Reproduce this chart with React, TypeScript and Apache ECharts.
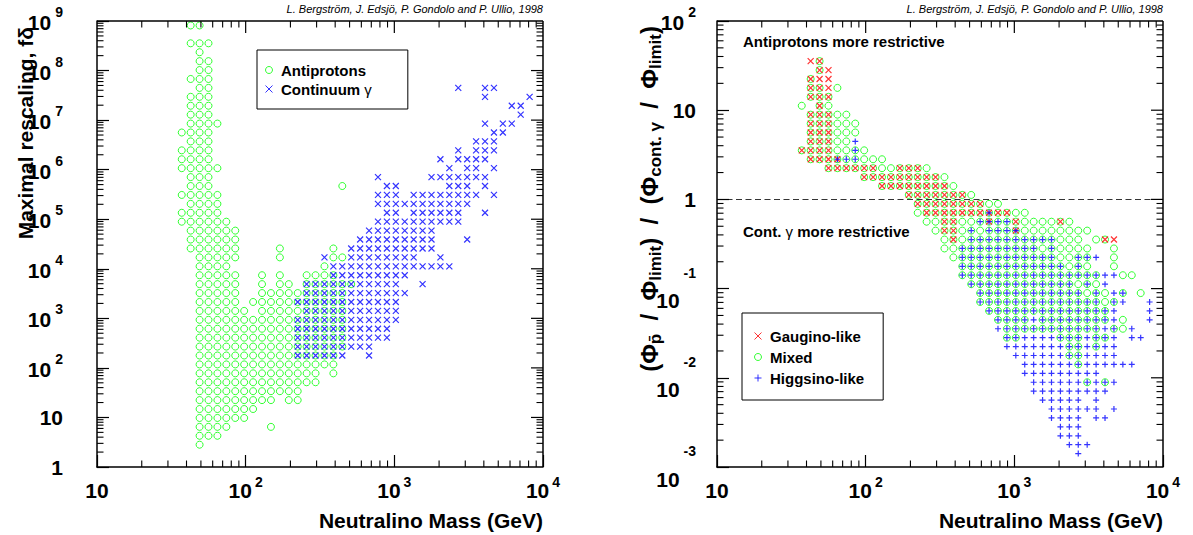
import React, { useEffect, useRef } from "react";
import * as echarts from "echarts";

const FONT = '"Liberation Sans", Arial, Helvetica, sans-serif';

// Grid cells.
// x bin i (0..49): log10(mass/GeV) from 1 + 0.06 i to 1 + 0.06 (i + 1)
// left panel, y bin j (0..49): log10(f delta) from 0.18 j to 0.18 (j + 1)
// right panel, y bin j (0..49): log10(ratio) from -3 + 0.1 j to -3 + 0.1 (j + 1)
// Each entry: [y bin, list of occupied x bins]

const antiprotonCells: [number, string][] = [
  [49, "10-11"], [47, "10-12"], [46, "11"], [45, "11-12"], [44, "11-12"],
  [43, "10-12"], [42, "11-12"], [41, "10-12"], [40, "10-12"], [39, "10-12"],
  [38, "10-13"], [37, "9-12"], [36, "10-12"], [35, "9-12"], [34, "9-12"],
  [33, "9-13"], [32, "10-12"], [31, "10-12,27"], [30, "9-13"], [29, "10-13"],
  [28, "9-13"], [27, "9-14"], [26, "10-15"], [25, "10-15"], [24, "10-15,20,26"],
  [23, "11-15,20,26-27"], [22, "11-14,25"], [21, "11-15,18,20,23-26"],
  [20, "11-15,18,20-21,23-28"], [19, "11-15,18-27"], [18, "11-15,17-27"],
  [17, "11-16,18-27"], [16, "11-27"], [15, "11-27"], [14, "11-27"], [13, "11-27"],
  [12, "11-26"], [11, "11-26"], [10, "11-24,26"], [9, "11-24"], [8, "11-22"],
  [7, "11-19,21-22"], [6, "11-17"], [5, "11-16"], [4, "11-14,19"], [3, "11-13"], [2, "11"],
];

const continuumCells: [number, string][] = [
  [42, "40,43-44"], [41, "43,48"], [40, "46-47"], [39, "47"], [38, "43,45-46"],
  [37, "44-45"], [36, "42-44"], [35, "40,42-44"], [34, "38,40-43"], [33, "39,41-42,44"],
  [32, "31,37-43"], [31, "32-33,39-41,43"], [30, "31-33,35-42,44"], [29, "31-41"],
  [28, "32-33,35-40,43"], [27, "31-40"], [26, "30-37"], [25, "29-37,41"], [24, "28-37"],
  [23, "25,28-35,38"], [22, "26-39"], [21, "26-34"], [20, "23-33,36"], [19, "23-34"],
  [18, "22-33"], [17, "23-33"], [16, "22-33"], [15, "22-32"], [14, "22-32"],
  [13, "22-30"], [12, "22-27,30"],
];

const gauginoCells: [number, string][] = [
  [45, "10-11"], [44, "11-12"], [43, "10-12"], [42, "10-12"], [41, "10-12"], [40, "11"],
  [39, "10-12"], [38, "10-12"], [37, "10-12"], [36, "10-12"], [35, "9-12"], [34, "10-13"],
  [33, "12-17,20-22"], [32, "16-24"], [31, "18-25"], [30, "21-27"], [29, "22-29"],
  [28, "23-32"], [27, "25-26,30,33,38"], [26, "25-26,33"], [25, "26,43-44"],
];

const mixedCells: [number, string][] = [
  [45, "11"], [44, "11"], [43, "10"], [42, "10-11,13"], [41, "10-12"], [40, "9,11-12"],
  [39, "10-14"], [38, "10-15"], [37, "10-15"], [36, "10-14"], [35, "9-16"], [34, "10-18"],
  [33, "12-23"], [32, "16-25"], [31, "18-26"], [30, "21-28"], [29, "22-31"], [28, "22-34"],
  [27, "23-39"], [26, "24-41"], [25, "25-40,42-43"], [24, "25-41,44"], [23, "26-41,44"],
  [22, "27-41,44"], [21, "27-42,45-46"], [20, "28-42"], [19, "29-43,45,47"], [18, "29-44"],
  [17, "30-43"], [16, "31-34,36-43,45"], [15, "32-42,44-45"], [14, "32-33,38-40,42-43"],
  [13, "39-40,42"], [12, "39-40"], [11, "40"], [9, "41,43"],
];

const higgsinoCells: [number, string][] = [
  [36, "15"], [35, "15"], [34, "13-15"], [28, "30"], [27, "29-32"], [26, "28,30-33"],
  [25, "28-37"], [24, "27-35,37"], [23, "27-37,40-42"], [22, "27-38,40"], [21, "27-44"],
  [20, "28-39,41,43"], [19, "29-40,42,44-45"], [18, "29-42,44-45,48"], [17, "30-44,48"],
  [16, "31-44,48"], [15, "31-44,46"], [14, "32-44,46-47"], [13, "32-44"], [12, "33-44"],
  [11, "34-46"], [10, "34-42"], [9, "35-44"], [8, "35-43"], [7, "36-40,42"], [6, "37-42,44"],
  [5, "37-40,42-43"], [4, "38-40"], [3, "38-40"], [2, "39-41"], [1, "40"],
];

// axis ranges and tick values
const massRange = [10, 10000];
const rescaleRange = [1, 1e9];
const ratioRange = [0.001, 100];
const massMajorTicks = [100, 1000];
const rescaleMajorTicks = [10, 1e2, 1e3, 1e4, 1e5, 1e6, 1e7, 1e8];
const ratioMajorTicks = [0.01, 0.1, 1, 10];
const massDecades = [10, 100, 1000];
const rescaleDecades = [1, 10, 1e2, 1e3, 1e4, 1e5, 1e6, 1e7, 1e8];
const ratioDecades = [0.001, 0.01, 0.1, 1, 10];
const minorMultipliers = [2, 3, 4, 5, 6, 7, 8, 9];

const CREDIT = "L. Bergström, J. Edsjö, P. Gondolo and P. Ullio, 1998";

const GRIDS = [
  { left: 97, top: 21, width: 446, height: 446 },
  { left: 717, top: 21, width: 446, height: 446 },
];

function expand(spec: string): number[] {
  const out: number[] = [];
  spec.split(",").forEach((part) => {
    const [a, b] = part.split("-").map(Number);
    if (b === undefined || isNaN(b)) out.push(a);
    else for (let k = a; k <= b; k++) out.push(k);
  });
  return out;
}

function cellsToPoints(cells: [number, string][], yLog0: number, yStep: number) {
  const pts: number[][] = [];
  cells.forEach(([j, spec]) => {
    expand(spec).forEach((i) => {
      pts.push([Math.pow(10, 1 + 0.06 * (i + 0.5)), Math.pow(10, yLog0 + yStep * (j + 0.5))]);
    });
  });
  return pts;
}

function minorOf(decades: number[]) {
  const out: number[] = [];
  decades.forEach((d) => minorMultipliers.forEach((m) => out.push(m * d)));
  return out;
}

const CIRCLE = "circle";
const CROSS = "path://M0,0L10,10M10,0L0,10";
const PLUS = "path://M5,0L5,10M0,5L10,5";
const GREEN = "#00ff00";
const BLUE = "#0000ff";
const RED = "#ff0000";

function expOf(v: number) {
  return Math.round(Math.log10(v));
}

function xLabel(v: number) {
  const e = expOf(v);
  if (e === 0) return "{p|1}";
  if (e === 1) return "{p|10}";
  return "{b|10}{s|" + e + "}";
}

function yLabel(v: number) {
  const e = expOf(v);
  if (e === 0) return "{p|1}";
  if (e === 1) return "{p|10}";
  if (e < 0) return "{nb|10}{n|" + e + "}";
  return "{b|10}{s|" + e + "}";
}

const baseTxt = { fontFamily: FONT, fontWeight: "bold", fontSize: 21, lineHeight: 21, color: "#000" };
const supTxt = { fontFamily: FONT, fontWeight: "bold", fontSize: 14, lineHeight: 14, color: "#000" };

const xRich = {
  p: { ...baseTxt },
  b: { ...baseTxt },
  s: { ...supTxt, padding: [0, 0, 17, 3] },
};
const yRich = {
  p: { ...baseTxt },
  b: { ...baseTxt, padding: [3, 0, 0, 0] },
  s: { ...supTxt, padding: [0, 0, 18, 4] },
  nb: { ...baseTxt, padding: [24, 0, 0, 0] },
  n: { ...supTxt, padding: [0, 0, 32, 4] },
};

// ---------- frame layer (one simple chart per panel): box and ticks ----------
function frameOption(grid: any, yRange: number[]) {
  const lineStyle = { color: "#000", width: 1.5 };
  return {
    animation: false,
    backgroundColor: "transparent",
    grid: [grid],
    xAxis: [{
      type: "log", min: massRange[0], max: massRange[1],
      axisLine: { show: true, lineStyle },
      axisTick: { show: true, inside: true, length: 12, lineStyle: { color: "#000", width: 1.2 } },
      axisLabel: { formatter: () => "" },
      splitLine: { show: true, lineStyle: { color: "rgba(0,0,0,0)" } },
    }],
    yAxis: [{
      type: "log", min: yRange[0], max: yRange[1],
      axisLine: { show: true, lineStyle },
      axisTick: { show: true, inside: true, length: 12, lineStyle: { color: "#000", width: 1.2 } },
      axisLabel: { formatter: () => "" },
      splitLine: { show: true, lineStyle: { color: "rgba(0,0,0,0)" } },
    }],
    series: [{ type: "scatter", symbol: "none", symbolSize: 0, data: [[massRange[0], yRange[0]]] }],
  };
}

function frameGraphics(chart: any, yRange: number[], yMajor: number[], yMinor: number[]) {
  const els: any[] = [];
  const ln = (x1: number, y1: number, x2: number, y2: number, w: number) => ({
    type: "line", shape: { x1, y1, x2, y2 }, style: { stroke: "#000", lineWidth: w },
  });
  const px = (v: number[]) => chart.convertToPixel({ gridIndex: 0 }, v);
  const bl = px([massRange[0], yRange[0]]);
  const tr = px([massRange[1], yRange[1]]);
  const left = bl[0], bottom = bl[1], right = tr[0], top = tr[1];
  els.push(ln(left, top, right, top, 1.5));
  els.push(ln(right, top, right, bottom, 1.5));
  massMajorTicks.forEach((v) => {
    const x = px([v, yRange[0]])[0];
    els.push(ln(x, top, x, top + 12, 1.2));
  });
  minorOf(massDecades).forEach((v) => {
    const x = px([v, yRange[0]])[0];
    els.push(ln(x, bottom, x, bottom - 6.5, 1.1));
    els.push(ln(x, top, x, top + 6.5, 1.1));
  });
  yMajor.forEach((v) => {
    const y = px([massRange[0], v])[1];
    els.push(ln(right, y, right - 12, y, 1.2));
  });
  yMinor.forEach((v) => {
    const y = px([massRange[0], v])[1];
    els.push(ln(left, y, left + 6.5, y, 1.1));
    els.push(ln(right, y, right - 6.5, y, 1.1));
  });
  return els;
}

function textEl(text: string, x: number, y: number, font: string, align: string, extra: any = {}) {
  return {
    type: "text", x, y, silent: true, ...extra,
    style: { text, font, fill: "#000", align, verticalAlign: "middle", textAlign: align, textVerticalAlign: "middle" },
  };
}

// ---------- data layer: points, labels, legends, titles ----------
function dataOption() {
  const xAxisOf = (g: number) => ({
    type: "log", logBase: 10, gridIndex: g, min: massRange[0], max: massRange[1],
    axisLine: { show: false }, axisTick: { show: false }, splitLine: { show: false },
    axisLabel: { margin: 13, formatter: xLabel, rich: xRich, showMinLabel: true, showMaxLabel: true },
  });
  const yAxisOf = (g: number, range: number[], margin: number) => ({
    type: "log", logBase: 10, gridIndex: g, min: range[0], max: range[1],
    axisLine: { show: false }, axisTick: { show: false }, splitLine: { show: false },
    axisLabel: { margin, formatter: yLabel, rich: yRich, showMinLabel: true, showMaxLabel: true },
  });

  const circleStyle = { color: "transparent", borderColor: GREEN, borderWidth: 1 };
  const crossStyle = (c: string) => ({ color: "transparent", borderColor: c, borderWidth: 1.2 });
  const legendText = { fontFamily: FONT, fontWeight: "bold", fontSize: 15, color: "#000", rich: { g: { fontFamily: FONT, fontWeight: "normal", fontSize: 15, color: "#000" } } };

  return {
    animation: false,
    backgroundColor: "#fff",
    grid: GRIDS,
    xAxis: [xAxisOf(0), xAxisOf(1)],
    yAxis: [yAxisOf(0, rescaleRange, 34), yAxisOf(1, ratioRange, 21)],
    legend: [
      {
        data: ["Antiprotons", "Continuum γ"],
        orient: "vertical", left: 257, top: 50,
        padding: [10.5, 36, 10.5, 8], itemGap: 0, itemWidth: 14, itemHeight: 7,
        textStyle: { ...legendText, lineHeight: 19 },
        formatter: (n: string) => (n === "Continuum γ" ? "Continuum {g|γ}" : n),
        borderColor: "#000", borderWidth: 1, backgroundColor: "#fff",
        itemStyle: { borderWidth: 1 }, selectedMode: false,
      },
      {
        data: ["Gaugino-like", "Mixed", "Higgsino-like"],
        orient: "vertical", left: 742, top: 313,
        padding: [12.5, 19, 11.5, 12], itemGap: 0, itemWidth: 14, itemHeight: 7,
        textStyle: { ...legendText, lineHeight: 21 },
        borderColor: "#000", borderWidth: 1, backgroundColor: "#fff",
        itemStyle: { borderWidth: 1 }, selectedMode: false,
      },
    ],
    graphic: [
      textEl(CREDIT, 543, 9, `italic 11px ${FONT}`, "right"),
      textEl(CREDIT, 1163, 9, `italic 11px ${FONT}`, "right"),
      textEl("Neutralino Mass (GeV)", 543, 520, `bold 21px ${FONT}`, "right"),
      textEl("Neutralino Mass (GeV)", 1163, 520, `bold 21px ${FONT}`, "right"),
      textEl("Maximal rescaling, fδ", 25, 27, `bold 21px ${FONT}`, "right", { rotation: Math.PI / 2 }),
      {
        type: "text", x: 649, y: 26, rotation: Math.PI / 2, silent: true,
        style: {
          text: "{m|(Φ}{s|p̄}{m|  /  Φ}{s|limit}{m|)  /  (Φ}{s|cont. γ}{m|  /  Φ}{s|limit}{m|)}",
          rich: {
            m: { fontFamily: FONT, fontWeight: "bold", fontSize: 24, lineHeight: 24, color: "#000" },
            s: { fontFamily: FONT, fontWeight: "bold", fontSize: 17, lineHeight: 17, padding: [12, 0, 0, 0], color: "#000" },
          },
          font: `bold 24px ${FONT}`, fill: "#000",
          align: "right", verticalAlign: "middle", textAlign: "right", textVerticalAlign: "middle",
        },
      },
      textEl("Antiprotons more restrictive", 743, 41, `bold 15px ${FONT}`, "left"),
      {
        type: "text", x: 743, y: 231, silent: true,
        style: {
          text: "{a|Cont. }{g|γ}{a| more restrictive}",
          rich: {
            a: { fontFamily: FONT, fontWeight: "bold", fontSize: 15, color: "#000" },
            g: { fontFamily: FONT, fontWeight: "normal", fontSize: 15, color: "#000" },
          },
          font: `bold 15px ${FONT}`, fill: "#000",
          align: "left", verticalAlign: "middle", textAlign: "left", textVerticalAlign: "middle",
        },
      },
    ],
    series: [
      {
        name: "Antiprotons", type: "scatter", xAxisIndex: 0, yAxisIndex: 0,
        symbol: CIRCLE, symbolSize: 7, itemStyle: circleStyle,
        data: cellsToPoints(antiprotonCells, 0, 0.18), silent: true, z: 2,
      },
      {
        name: "Continuum γ", type: "scatter", xAxisIndex: 0, yAxisIndex: 0,
        symbol: CROSS, symbolSize: 6, itemStyle: crossStyle(BLUE),
        data: cellsToPoints(continuumCells, 0, 0.18), silent: true, z: 3,
      },
      {
        name: "Mixed", type: "scatter", xAxisIndex: 1, yAxisIndex: 1,
        symbol: CIRCLE, symbolSize: 7, itemStyle: circleStyle,
        data: cellsToPoints(mixedCells, -3, 0.1), silent: true, z: 2,
        markLine: {
          silent: true, symbol: ["none", "none"], label: { show: false },
          lineStyle: { color: "#333", type: [6, 3.5], width: 1.2 },
          data: [{ yAxis: 1 }],
        },
      },
      {
        name: "Gaugino-like", type: "scatter", xAxisIndex: 1, yAxisIndex: 1,
        symbol: CROSS, symbolSize: 6, itemStyle: crossStyle(RED),
        data: cellsToPoints(gauginoCells, -3, 0.1), silent: true, z: 3,
      },
      {
        name: "Higgsino-like", type: "scatter", xAxisIndex: 1, yAxisIndex: 1,
        symbol: PLUS, symbolSize: 6, itemStyle: crossStyle(BLUE),
        data: cellsToPoints(higgsinoCells, -3, 0.1), silent: true, z: 3,
      },
    ],
  };
}

export default function App() {
  const dataRef = useRef<HTMLDivElement>(null);
  const leftRef = useRef<HTMLDivElement>(null);
  const rightRef = useRef<HTMLDivElement>(null);
  useEffect(() => {
    if (!dataRef.current || !leftRef.current || !rightRef.current) return;
    const size = { renderer: "svg" as const, width: 1193, height: 535 };
    const chart = echarts.init(dataRef.current, undefined, size);
    chart.setOption(dataOption() as any);

    const panels = [
      { el: leftRef.current, grid: GRIDS[0], yRange: rescaleRange, yMajor: rescaleMajorTicks, yMinor: minorOf(rescaleDecades) },
      { el: rightRef.current, grid: GRIDS[1], yRange: ratioRange, yMajor: ratioMajorTicks, yMinor: minorOf(ratioDecades) },
    ];
    const frames = panels.map((p) => {
      const f = echarts.init(p.el, undefined, size);
      try {
        f.setOption(frameOption(p.grid, p.yRange) as any);
        f.setOption({ graphic: frameGraphics(f, p.yRange, p.yMajor, p.yMinor) } as any);
      } catch (e) {
        console.error(e);
      }
      return f;
    });
    return () => {
      frames.forEach((f) => f.dispose());
      chart.dispose();
    };
  }, []);
  const box: any = { position: "absolute", left: 0, top: 0, width: 1193, height: 535 };
  return (
    <>
      <div ref={dataRef} style={{ ...box, background: "#fff", zIndex: 0 }} />
      <div ref={leftRef} style={{ ...box, zIndex: 2, pointerEvents: "none" }} />
      <div ref={rightRef} style={{ ...box, zIndex: 3, pointerEvents: "none" }} />
    </>
  );
}
